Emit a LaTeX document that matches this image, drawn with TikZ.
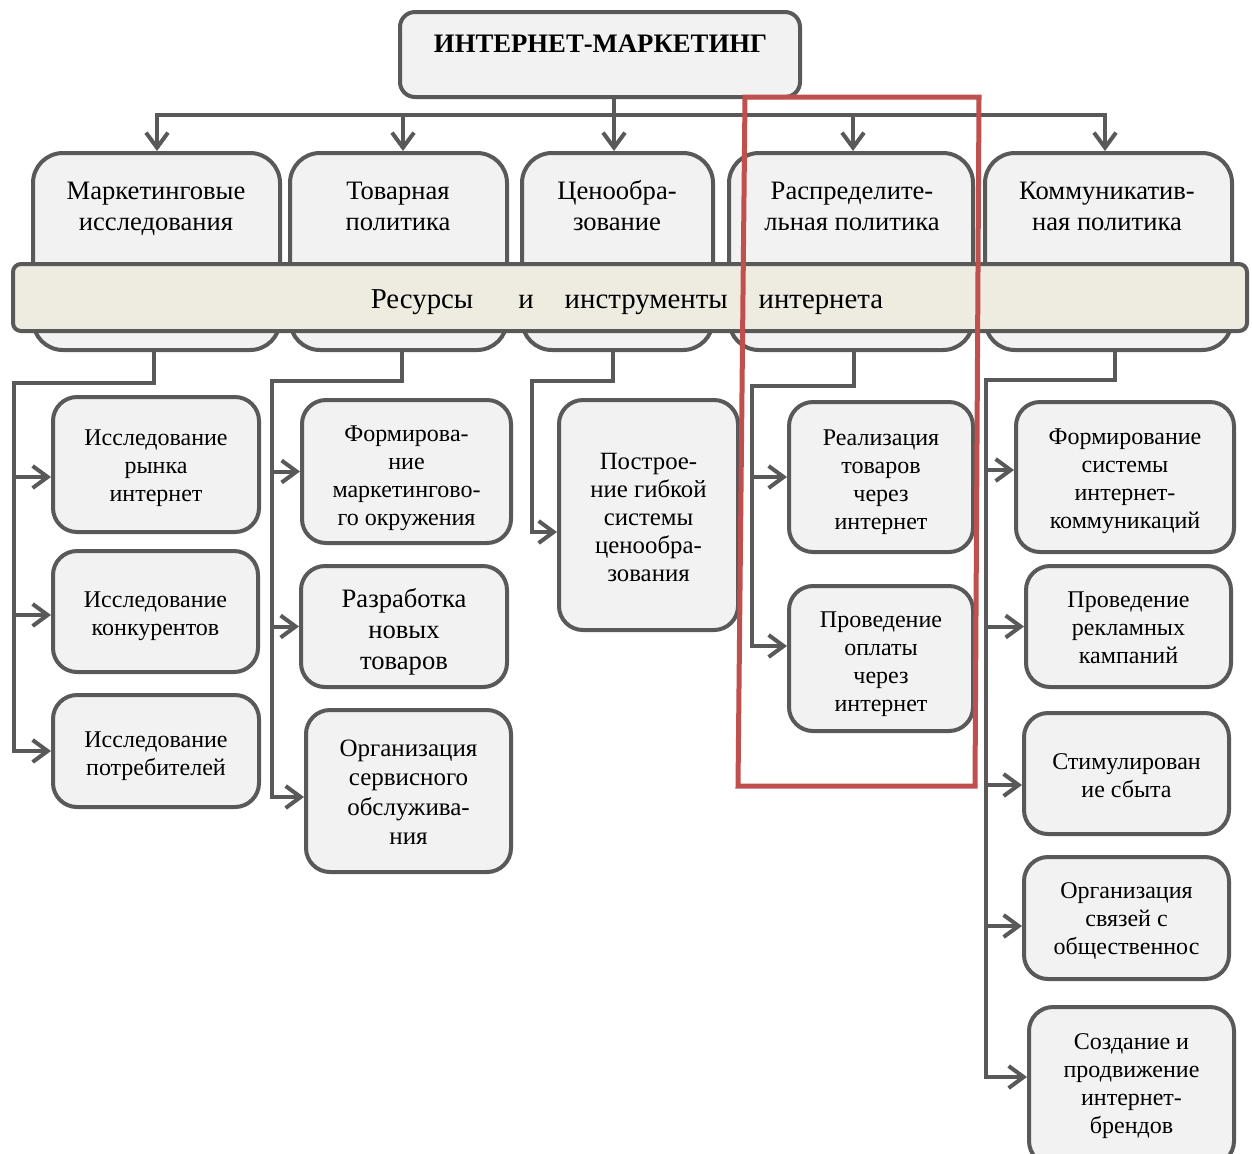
\documentclass[tikz,border=0pt]{standalone}
\usepackage{fontspec}
\setmainfont{Liberation Serif}
\usetikzlibrary{arrows.meta,calc}
\definecolor{lineg}{HTML}{595959}
\definecolor{boxf}{HTML}{F2F2F2}
\definecolor{bandf}{HTML}{EEEBE0}
\definecolor{redf}{HTML}{C0504D}
\tikzset{
  box/.style={draw=lineg, fill=boxf, line width=2pt, rounded corners=12pt, inner sep=0pt},
  bt/.style={align=center, inner sep=0pt, font=\fontsize{12}{14}\selectfont},
  catbox/.style={draw=lineg, fill=boxf, line width=2pt, rounded corners=15pt, inner sep=0pt, minimum height=98.5pt, anchor=center},
  cattext/.style={align=center, inner sep=0pt, font=\fontsize{13.3}{15.5}\selectfont},
  conn/.style={draw=lineg, line width=2pt, -{Straight Barb[length=7.5pt,width=11pt]}},
  plain/.style={draw=lineg, line width=2pt},
}
\begin{document}
\begin{tikzpicture}[x=0.5pt,y=-0.5pt]
\useasboundingbox (0,0) rectangle (1252,1153);
\fill[white] (0,0) rectangle (1252,1153);
% top box
\node[draw=lineg, fill=boxf, line width=2pt, rounded corners=7.5pt, minimum width=200pt, minimum height=42.5pt] (top) at (600,54.5) {};
\node[font=\fontsize{13.35}{15}\selectfont\bfseries, inner sep=0pt] (toptxt) at (600.5,44) {ИНТЕРНЕТ-МАРКЕТИНГ};
% category boxes
\node[catbox, minimum width=123.5pt] (c1) at (156.5,251.5) {};
\node[catbox, minimum width=108.5pt] (c2) at (398.5,251.5) {};
\node[catbox, minimum width=95.5pt] (c3) at (617.5,251.5) {};
\node[catbox, minimum width=122pt] (c4) at (851,251.5) {};
\node[catbox, minimum width=123.5pt] (c5) at (1108.5,251.5) {};
\node[cattext] (c1t) at (156,209) {Маркетинговые\\исследования};
\node[cattext] (c2t) at (398,206) {Товарная\\политика};
\node[cattext] (c3t) at (617,206) {Ценообра-\\зование};
\node[cattext] (c4t) at (852,206) {Распределите-\\льная политика};
\node[cattext] (c5t) at (1107,206) {Коммуникатив-\\ная политика};
% band
\node[draw=lineg, fill=bandf, line width=2pt, rounded corners=4pt, minimum width=617pt, minimum height=33.5pt, inner sep=0pt] (band) at (630,297.5) {};
\node[inner sep=0pt, font=\fontsize{14.4}{16}\selectfont] (bandtxt) at (627,302.5) {Ресурсы\hspace{22.5pt}и\hspace{15.5pt}инструменты\hspace{15.5pt}интернета};
% top connectors
\coordinate (j) at (614,115);
\draw[plain] (top.south -| j) -- (j);
\draw[conn] (top.south -| j) -- ([xshift=-1.75pt]c3.north);
\draw[conn] (j) -| ([xshift=0.25pt]c1.north);
\draw[conn] (j) -| ([xshift=2.25pt]c2.north);
\draw[conn] (j) -| ([xshift=1pt]c4.north);
\draw[conn] (j) -| ([xshift=-1.75pt]c5.north);
% lower boxes
\node[box, minimum width=103pt, minimum height=67.5pt, label={[bt, yshift=-2pt]center:{Исследование\\рынка\\интернет}}] (A) at (156,464.5) {};
\node[box, minimum width=102.5pt, minimum height=60.5pt, label={[bt, yshift=-2.5pt]center:{Исследование\\конкурентов}}] (B) at (155.5,611.5) {};
\node[box, minimum width=103pt, minimum height=56pt, label={[bt, yshift=-2.5pt]center:{Исследование\\потребителей}}] (C) at (156,751) {};
\node[box, minimum width=104.5pt, minimum height=71.5pt, label={[bt, yshift=-3.25pt]center:{Формирова-\\ние\\маркетингово-\\го окружения}}] (D) at (406.5,471.5) {};
\node[box, minimum width=103pt, minimum height=60.5pt, label={[bt, yshift=-2.5pt, font=\fontsize{13.3}{15.5}\selectfont]center:{Разработка\\новых\\товаров}}] (E) at (404,626.5) {};
\node[box, minimum width=102.5pt, minimum height=81pt, label={[bt, yshift=-0.5pt, font=\fontsize{12.5}{14.75}\selectfont]center:{Организация\\сервисного\\обслужива-\\ния}}] (F) at (408.5,791) {};
\node[box, minimum width=89.5pt, minimum height=115pt, label={[bt, yshift=-1.25pt, font=\fontsize{12.4}{14}\selectfont]center:{Построе-\\ние гибкой\\системы\\ценообра-\\зования}}] (G) at (648.5,515) {};
\node[box, minimum width=92pt, minimum height=75pt, label={[bt, yshift=-2.5pt]center:{Реализация\\товаров\\через\\интернет}}] (H) at (881,477) {};
\node[box, minimum width=92pt, minimum height=72.5pt, label={[bt, yshift=-2.75pt]center:{Проведение\\оплаты\\через\\интернет}}] (I) at (881,658.5) {};
\node[box, minimum width=109pt, minimum height=75pt, label={[bt, yshift=-2pt]center:{Формирование\\системы\\интернет-\\коммуникаций}}] (J) at (1125,477) {};
\node[box, minimum width=102.5pt, minimum height=60.5pt, label={[bt, yshift=-0.75pt]center:{Проведение\\рекламных\\кампаний}}] (K) at (1128.5,626.5) {};
\node[box, minimum width=102.5pt, minimum height=60.5pt, label={[bt, yshift=-1pt]center:{Стимулирован\\ие сбыта}}] (L) at (1126.5,773.5) {};
\node[box, minimum width=102.5pt, minimum height=61pt, label={[bt, yshift=-1.5pt]center:{Организация\\связей с\\общественнос}}] (M) at (1126.5,918) {};
\node[box, minimum width=102.5pt, minimum height=79pt, label={[bt]center:{Создание и\\продвижение\\интернет-\\брендов}}] (N) at (1131.5,1086) {};
% lower connectors
\coordinate (e1) at (14,383);
\coordinate (e2) at (272,381);
\coordinate (e3) at (532,381);
\coordinate (e4) at (752,386);
\coordinate (e5) at (986,380);
\draw[conn] ([xshift=-1.25pt]c1.south) |- (e1) |- ([yshift=-6.25pt]A.west);
\draw[conn] ([xshift=-1.25pt]c1.south) |- (e1) |- ([yshift=-1.75pt]B.west);
\draw[conn] ([xshift=-1.25pt]c1.south) |- (e1) |- (C.west);
\draw[conn] ([xshift=1.75pt]c2.south) |- (e2) |- (D.west);
\draw[conn] ([xshift=1.75pt]c2.south) |- (e2) |- (E.west);
\draw[conn] ([xshift=1.75pt]c2.south) |- (e2) |- ([yshift=-3pt]F.west);
\draw[conn] ([xshift=-2.25pt]c3.south) |- (e3) |- ([yshift=-8.5pt]G.west);
\draw[conn] ([xshift=1.5pt]c4.south) |- (e4) |- (H.west);
\draw[conn] ([xshift=1.5pt]c4.south) |- (e4) |- ([yshift=6.25pt]I.west);
\draw[conn] ([xshift=3.25pt]c5.south) |- (e5) |- ([yshift=3.5pt]J.west);
\draw[conn] ([xshift=3.25pt]c5.south) |- (e5) |- (K.west);
\draw[conn] ([xshift=3.25pt]c5.south) |- (e5) |- ([yshift=-5.75pt]L.west);
\draw[conn] ([xshift=3.25pt]c5.south) |- (e5) |- ([yshift=-4pt]M.west);
\draw[conn] ([xshift=3.25pt]c5.south) |- (e5) |- ([yshift=4.5pt]N.west);
% red frame
\draw[redf, line width=2.5pt] (745,97) -- (979,97) -- (975,786) -- (738,786) -- cycle;
\end{tikzpicture}
\end{document}
